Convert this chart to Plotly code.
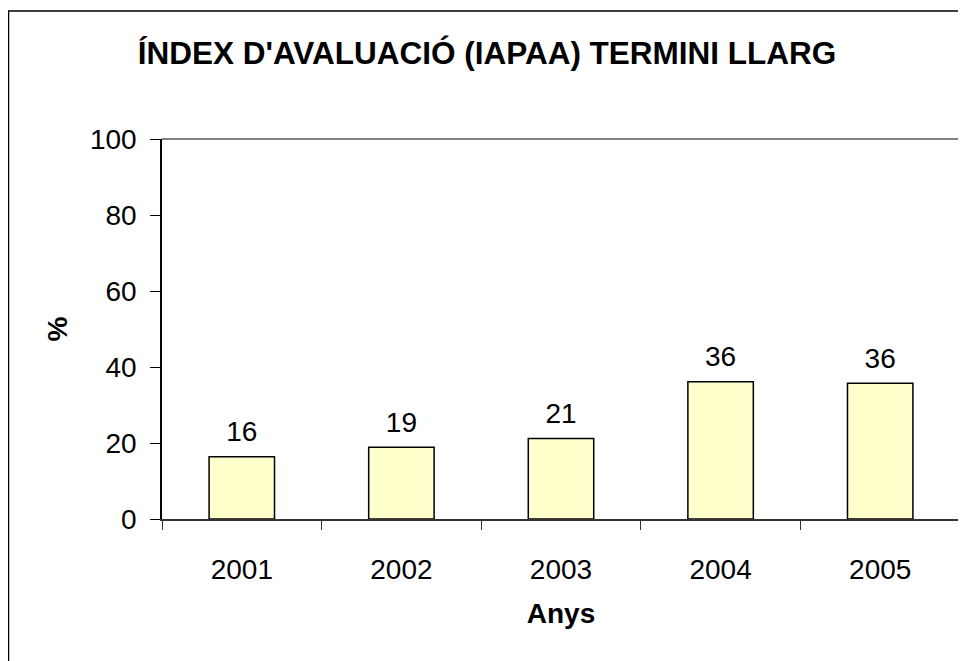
import plotly.graph_objects as go

years = ["2001", "2002", "2003", "2004", "2005"]
values = [16.4, 18.9, 21.2, 36.1, 35.7]
title_text = "ÍNDEX D'AVALUACIÓ (IAPAA) TERMINI LLARG"
x_title = "Anys"
y_title = "%"

OFF = 8  # the page places the figure 8px in from the top-left corner
W, H = 966 - OFF, 661 - OFF
L, R, T, B = 162 - OFF, 960 - OFF, 139 - OFF, 519 - OFF  # plot area in figure pixels


def px_x(p):
    return (p - OFF - L) / (R - L)


def px_y(p):
    return (B - (p - OFF)) / (B - T)


FONT = "Liberation Sans, Arial, sans-serif"
FS = 28

fig = go.Figure()
fig.add_trace(go.Bar(
    x=years, y=values,
    marker=dict(color="#FFFFCC", line=dict(color="black", width=1.5)),
    width=0.41,
    cliponaxis=False,
    hoverinfo="skip",
))
fig.add_trace(go.Scatter(
    x=years, y=values,
    mode="markers+text",
    marker=dict(size=12, opacity=0),
    text=[f"{v:.0f}" for v in values],
    textposition="top center",
    textfont=dict(family=FONT, size=FS, color="black"),
    cliponaxis=False,
    hoverinfo="skip",
))

fig.update_layout(
    width=W, height=H,
    margin=dict(l=L, r=W - R, t=T, b=H - B, pad=0),
    paper_bgcolor="white", plot_bgcolor="white",
    showlegend=False,
    font=dict(family=FONT, color="black"),
    title=dict(text=f"<b>{title_text}</b>", x=0.5, xanchor="center",
               y=1 - (53 - OFF) / H, yanchor="middle",
               font=dict(family=FONT, size=31.5, color="black")),
    bargap=0.59,
)
fig.update_xaxes(
    type="category", showline=True, linecolor="#333333", linewidth=1.5,
    ticks="outside", tickson="boundaries", ticklen=9, tickcolor="#333333",
    ticklabelstandoff=25, tickangle=0,
    tickfont=dict(family=FONT, size=FS, color="black"),
    showgrid=False, zeroline=False,
    title=dict(text=f"<b>{x_title}</b>", font=dict(family=FONT, size=FS, color="black"), standoff=19),
)
fig.update_yaxes(
    range=[0, 100], dtick=20, showline=True, linecolor="black", linewidth=1.5,
    ticks="outside", ticklen=10, tickcolor="black",
    ticklabelstandoff=8,
    tickfont=dict(family=FONT, size=FS, color="black"),
    showgrid=False, zeroline=False,
    title=dict(text=f"<b>{y_title}</b>", font=dict(family=FONT, size=FS, color="black"), standoff=14),
)

# plot-area border (top and right), gray
fig.add_shape(type="line", xref="paper", yref="paper", x0=0, x1=1, y0=1, y1=1,
              line=dict(color="#808080", width=2), layer="below")
fig.add_shape(type="line", xref="paper", yref="paper", x0=1, x1=1, y0=0, y1=1,
              line=dict(color="#808080", width=2), layer="below")
# outer chart frame (left and top visible; extends past the page)
fig.add_shape(type="rect", xref="paper", yref="paper",
              x0=px_x(8.5), x1=px_x(1000), y0=px_y(700), y1=px_y(11),
              line=dict(color="black", width=1.5), layer="below")

fig.write_html("out.html", config={"displayModeBar": False})
